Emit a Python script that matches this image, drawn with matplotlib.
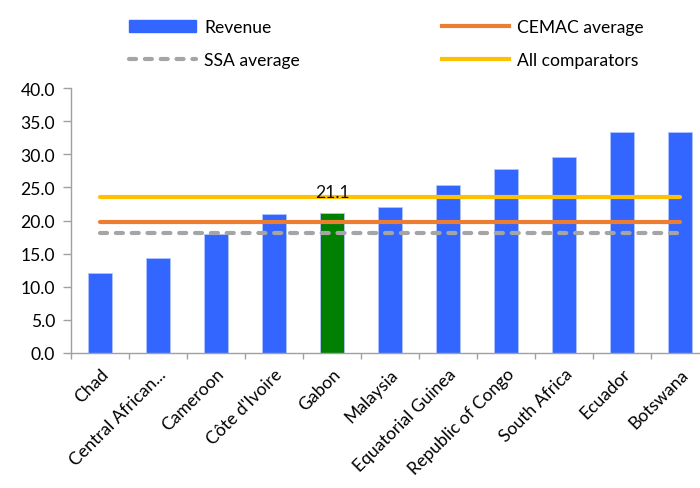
import matplotlib
matplotlib.use("Agg")
import matplotlib.pyplot as plt
from matplotlib.patches import Patch
from matplotlib.lines import Line2D

countries = ["Chad", "Central African...", "Cameroon", "Côte d'Ivoire", "Gabon",
             "Malaysia", "Equatorial Guinea", "Republic of Congo", "South Africa",
             "Ecuador", "Botswana"]
revenue = [12.1, 14.3, 17.9, 21.0, 21.1, 22.1, 25.4, 27.8, 29.6, 33.3, 33.4]
cemac_avg = 19.7
ssa_avg = 18.1
all_comp = 23.5
highlight = "Gabon"
yticks = [0, 5, 10, 15, 20, 25, 30, 35, 40]

FS = 12.6
DASH = (0, (1.7, 2.1))
plt.rcParams['font.family'] = ['Lato', 'DejaVu Sans']
fig = plt.figure(figsize=(7, 4.89), dpi=100)
ax = fig.add_axes([71/700, 135/489, 638/700, 265/489])

x = list(range(len(countries)))
colors = ["#008000" if c == highlight else "#3366FF" for c in countries]
ax.bar(x, revenue, width=0.4, color=colors, edgecolor="#AFC3FF", linewidth=0.6, zorder=2)

ax.plot([0, len(countries) - 1], [all_comp, all_comp], color="#FFC000", lw=3, solid_capstyle='round', zorder=3)
ax.plot([0, len(countries) - 1], [cemac_avg, cemac_avg], color="#ED7D31", lw=3, solid_capstyle='round', zorder=3)
ax.plot([0, len(countries) - 1], [ssa_avg, ssa_avg], color="#A5A5A5", lw=3, ls=DASH, dash_capstyle='round', zorder=3)

gi = countries.index(highlight)
ax.annotate(f"{revenue[gi]:.1f}", (gi, revenue[gi]), xytext=(0, 12), textcoords='offset points',
            ha='center', va='baseline', fontsize=FS, color='#111111', zorder=4)

ax.set_xlim(-0.5, len(countries) - 0.5)
ax.set_ylim(0, 40)
ax.set_yticks(yticks)
ax.set_yticklabels([f"{v:.1f}" for v in yticks], fontsize=FS)
ax.set_xticks(x)
ax.set_xticklabels(countries, rotation=45, ha='right', rotation_mode='anchor', fontsize=FS)
ax.set_xticks([i - 0.5 for i in range(len(countries) + 1)], minor=True)
ax.tick_params(axis='x', which='major', length=0, pad=9)
ax.tick_params(axis='x', which='minor', length=4.5, color='#A0A0A0', width=1)
ax.tick_params(axis='y', length=5.5, color='#A0A0A0', width=1, pad=6)
for s in ['top', 'right']:
    ax.spines[s].set_visible(False)
for s in ['left', 'bottom']:
    ax.spines[s].set_color('#A0A0A0')
    ax.spines[s].set_linewidth(1)

h_rev = Patch(color="#3366FF")
h_ssa = Line2D([], [], color="#A5A5A5", lw=3, ls=DASH, dash_capstyle='round')
h_cemac = Line2D([], [], color="#ED7D31", lw=3)
h_all = Line2D([], [], color="#FFC000", lw=3)
common = dict(loc='center left', frameon=False, fontsize=FS, handlelength=3.85,
              labelspacing=0.95, handletextpad=0.45, borderpad=0, borderaxespad=0)
fig.legend([h_rev, h_ssa], ["Revenue", "SSA average"], bbox_to_anchor=(129/700, 1 - 44.5/489), **common)
fig.legend([h_cemac, h_all], ["CEMAC average", "All comparators"], bbox_to_anchor=(442/700, 1 - 44.5/489), **common)

fig.savefig("out.png", dpi=100)
